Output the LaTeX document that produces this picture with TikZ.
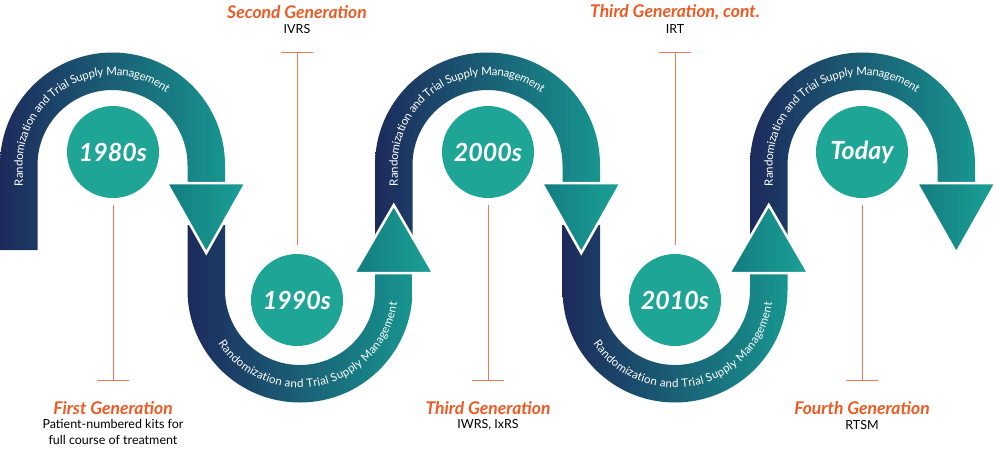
\documentclass[tikz,border=0pt]{standalone}
\usepackage{fontspec}
\setmainfont{Lato}
\usetikzlibrary{decorations.text,calc}
\definecolor{navy}{HTML}{1D2A5C}
\definecolor{teal1}{HTML}{17958F}
\definecolor{tealA}{HTML}{137C80}
\definecolor{tealB}{HTML}{1BA096}
\definecolor{circ}{HTML}{1FA596}
\definecolor{org}{HTML}{EE7A55}
\definecolor{orgT}{HTML}{EE5A24}
\tikzset{
 x=1pt,y=1pt,
 band/.style={left color=navy,right color=teal1},
 ahead/.style={left color=tealA,right color=tealB,draw=white,line width=2.5pt,line join=miter},
 yr/.style={circle,fill=circ,minimum size=92pt,inner sep=0pt,text=white,font=\fontsize{25}{25}\selectfont\bfseries\itshape},
 gen/.style={text=orgT,font=\fontsize{17.5}{18}\selectfont\bfseries\itshape,inner sep=0pt},
 sub/.style={text=black,font=\fontsize{12.5}{16}\selectfont,align=center,inner sep=0pt},
 tl/.style={draw=org,line width=1pt},
 arctext/.style={decorate,decoration={text along path,text={|\fontsize{11.5}{11.5}\selectfont\color{white}|Randomization and Trial Supply Management},raise=-4pt}}
}
\begin{document}
\begin{tikzpicture}
\useasboundingbox (0,0) rectangle (1000,-467);
% top bands
\foreach \cx/\yb in {112.5/250,487.5/235,862.5/235}{
 \shade[band] (\cx-112.5,-\yb) -- (\cx-112.5,-165) arc(180:0:112.5) -- (\cx+112.5,-190) -- (\cx+75,-190) -- (\cx+75,-165) arc(0:180:75) -- (\cx-75,-\yb) -- cycle;
 \path[arctext] (\cx-93.75,-186) -- (\cx-93.75,-165) arc(180:0:93.75);
}
% bottom bands
\foreach \cx in {300,675}{
 \shade[band] (\cx-112.5,-225) -- (\cx-112.5,-290) arc(180:360:112.5) -- (\cx+112.5,-265) -- (\cx+75,-265) -- (\cx+75,-290) arc(360:180:75) -- (\cx-75,-225) -- cycle;
 \path[arctext] ($(\cx,-290)+(213:93.75)$) arc(213:360:93.75) -- (\cx+93.75,-255);
}
% arrowheads
\foreach \cx in {112.5,487.5,862.5}{
 \shade[ahead] (\cx+93.75-39.5,-183) -- (\cx+93.75+39.5,-183) -- (\cx+93.75,-253) -- cycle;
}
\foreach \cx in {300,675}{
 \shade[ahead] (\cx+93.75-39.5,-273) -- (\cx+93.75+39.5,-273) -- (\cx+93.75,-205) -- cycle;
}
% circles
\node[yr] (c1) at (113,-152) {1980s};
\node[yr] (c2) at (297,-300) {1990s};
\node[yr] (c3) at (488,-152) {2000s};
\node[yr] (c4) at (675,-300) {2010s};
\node[yr] (c5) at (862,-152) {Today};
% timeline stems
\foreach \n/\x in {a/113,b/488,c/862}{
 \coordinate (\n1) at (\x,-205); \coordinate (\n2) at (\x,-380);
 \draw[tl] (\n1) -- (\n2); \draw[tl] ([xshift=-16pt]\n2) -- ([xshift=16pt]\n2);
}
\foreach \n/\x in {d/297,e/675}{
 \coordinate (\n1) at (\x,-52); \coordinate (\n2) at (\x,-245);
 \draw[tl] (\n1) -- (\n2); \draw[tl] ([xshift=-16pt]\n1) -- ([xshift=16pt]\n1);
}
% labels
\node[gen] (g1) at (113,-408) {First Generation};
\node[sub,anchor=north] (s1) at (113,-419) {Patient-numbered kits for\\full course of treatment};
\node[gen] (g2) at (297,-12) {Second Generation};
\node[sub] (s2) at (297,-29) {IVRS};
\node[gen] (g3) at (488,-408) {Third Generation};
\node[sub] (s3) at (488,-425) {IWRS, IxRS};
\node[gen] (g4) at (675,-12) {Third Generation, cont.};
\node[sub] (s4) at (675,-29) {IRT};
\node[gen] (g5) at (862,-408) {Fourth Generation};
\node[sub] (s5) at (862,-425) {RTSM};
\end{tikzpicture}
\end{document}
